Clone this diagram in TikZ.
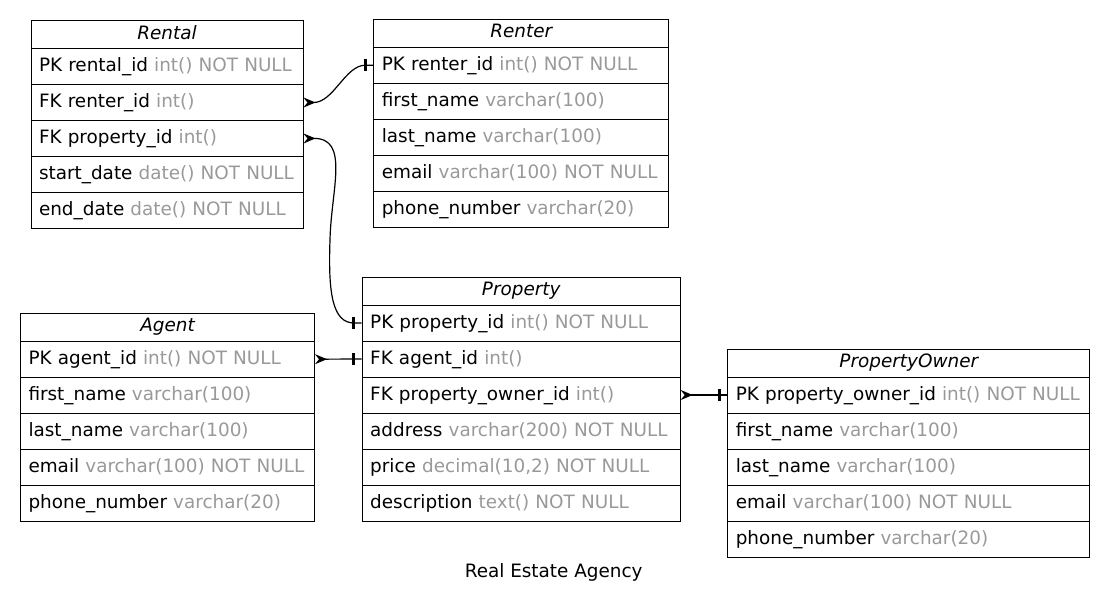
\documentclass[tikz,border=0pt]{standalone}
\usepackage{fontspec}
\setmainfont{DejaVu Sans}
\usepackage{xcolor}
\usepackage{tikz}
\usetikzlibrary{arrows.meta}
\pgfdeclarelayer{nodelayer}
\pgfdeclarelayer{edgelayer}
\pgfsetlayers{nodelayer,edgelayer,main}
\definecolor{typegray}{HTML}{999999}
\newcommand{\ftype}[1]{\textcolor{typegray}{#1}}
\newcommand{\erfont}{\fontsize{18.4}{22}\selectfont}
\tikzset{
  ttl/.style={draw, line width=1pt, anchor=north west, inner xsep=8pt, inner ysep=0pt,
    minimum height=27.8pt, text height=14pt, text depth=5pt, align=center,
    text width=#1, font=\erfont\itshape},
  fld/.style={draw, line width=1pt, anchor=north west, inner xsep=8pt, inner ysep=0pt,
    minimum height=36pt, text height=14pt, text depth=4pt, align=left, text width=#1},
  crow/.style={line width=1.2pt, {Stealth[reversed, length=12pt, width=10pt, inset=4pt]}-},
  tee/.style={line width=3pt},
}
\begin{document}
\begin{tikzpicture}[x=1pt, y=-1pt, font=\erfont]
  \useasboundingbox (0,0) rectangle (1108,606);
  \begin{pgfonlayer}{nodelayer}
    % Rental
    \node [ttl=256pt] (rt) at (30.5, 20.2) {Rental};
    \node [fld=256pt] (rt-pk) at (30.5, 48) {PK rental\_id \ftype{int() NOT NULL}};
    \node [fld=256pt] (rt-renter) at (30.5, 84) {FK renter\_id \ftype{int()}};
    \node [fld=256pt] (rt-property) at (30.5, 120) {FK property\_id \ftype{int()}};
    \node [fld=256pt] (rt-start) at (30.5, 156) {start\_date \ftype{date() NOT NULL}};
    \node [fld=256pt] (rt-end) at (30.5, 192) {end\_date \ftype{date() NOT NULL}};
    % Renter
    \node [ttl=279pt] (rn) at (373.3, 18.9) {Renter};
    \node [fld=279pt] (rn-pk) at (373.3, 46.7) {PK renter\_id \ftype{int() NOT NULL}};
    \node [fld=279pt] (rn-first) at (373.3, 82.7) {first\_name \ftype{varchar(100)}};
    \node [fld=279pt] (rn-last) at (373.3, 118.7) {last\_name \ftype{varchar(100)}};
    \node [fld=279pt] (rn-email) at (373.3, 154.7) {email \ftype{varchar(100) NOT NULL}};
    \node [fld=279pt] (rn-phone) at (373.3, 190.7) {phone\_number \ftype{varchar(20)}};
    % Agent
    \node [ttl=278pt] (ag) at (20, 312.9) {Agent};
    \node [fld=278pt] (ag-pk) at (20, 340.7) {PK agent\_id \ftype{int() NOT NULL}};
    \node [fld=278pt] (ag-first) at (20, 376.7) {first\_name \ftype{varchar(100)}};
    \node [fld=278pt] (ag-last) at (20, 412.7) {last\_name \ftype{varchar(100)}};
    \node [fld=278pt] (ag-email) at (20, 448.7) {email \ftype{varchar(100) NOT NULL}};
    \node [fld=278pt] (ag-phone) at (20, 484.7) {phone\_number \ftype{varchar(20)}};
    % Property
    \node [ttl=302pt] (pr) at (361.7, 276.7) {Property};
    \node [fld=302pt] (pr-pk) at (361.7, 304.5) {PK property\_id \ftype{int() NOT NULL}};
    \node [fld=302pt] (pr-agent) at (361.7, 340.5) {FK agent\_id \ftype{int()}};
    \node [fld=302pt] (pr-owner) at (361.7, 376.5) {FK property\_owner\_id \ftype{int()}};
    \node [fld=302pt] (pr-address) at (361.7, 412.5) {address \ftype{varchar(200) NOT NULL}};
    \node [fld=302pt] (pr-price) at (361.7, 448.5) {price \ftype{decimal(10,2) NOT NULL}};
    \node [fld=302pt] (pr-desc) at (361.7, 484.5) {description \ftype{text() NOT NULL}};
    % PropertyOwner
    \node [ttl=346pt] (po) at (727.3, 348.7) {PropertyOwner};
    \node [fld=346pt] (po-pk) at (727.3, 376.5) {PK property\_owner\_id \ftype{int() NOT NULL}};
    \node [fld=346pt] (po-first) at (727.3, 412.5) {first\_name \ftype{varchar(100)}};
    \node [fld=346pt] (po-last) at (727.3, 448.5) {last\_name \ftype{varchar(100)}};
    \node [fld=346pt] (po-email) at (727.3, 484.5) {email \ftype{varchar(100) NOT NULL}};
    \node [fld=346pt] (po-phone) at (727.3, 520.5) {phone\_number \ftype{varchar(20)}};
    % caption
    \node [anchor=base] (caption) at (553.7, 577.7) {Real Estate Agency};
  \end{pgfonlayer}
  \begin{pgfonlayer}{edgelayer}
    \draw [crow] (rt-renter.east) .. controls +(30,0) and +(-20,0) .. ([shift={(-8,0)}]rn-pk.west) -- (rn-pk.west);
    \draw [tee] ([shift={(-8,-6)}]rn-pk.west) -- ++(0,12);
    \draw [crow] (rt-property.east) .. controls (350,138) and (331,190) .. (330,240)
      .. controls (328,295) and (333,322.5) .. ([shift={(-8,0)}]pr-pk.west) -- (pr-pk.west);
    \draw [tee] ([shift={(-8,-6)}]pr-pk.west) -- ++(0,12);
    \draw [crow] (ag-pk.east) -- (pr-agent.west);
    \draw [tee] ([shift={(-8,-6)}]pr-agent.west) -- ++(0,12);
    \draw [crow] (pr-owner.east) -- (po-pk.west);
    \draw [tee] ([shift={(-8,-6)}]po-pk.west) -- ++(0,12);
  \end{pgfonlayer}
\end{tikzpicture}
\end{document}
